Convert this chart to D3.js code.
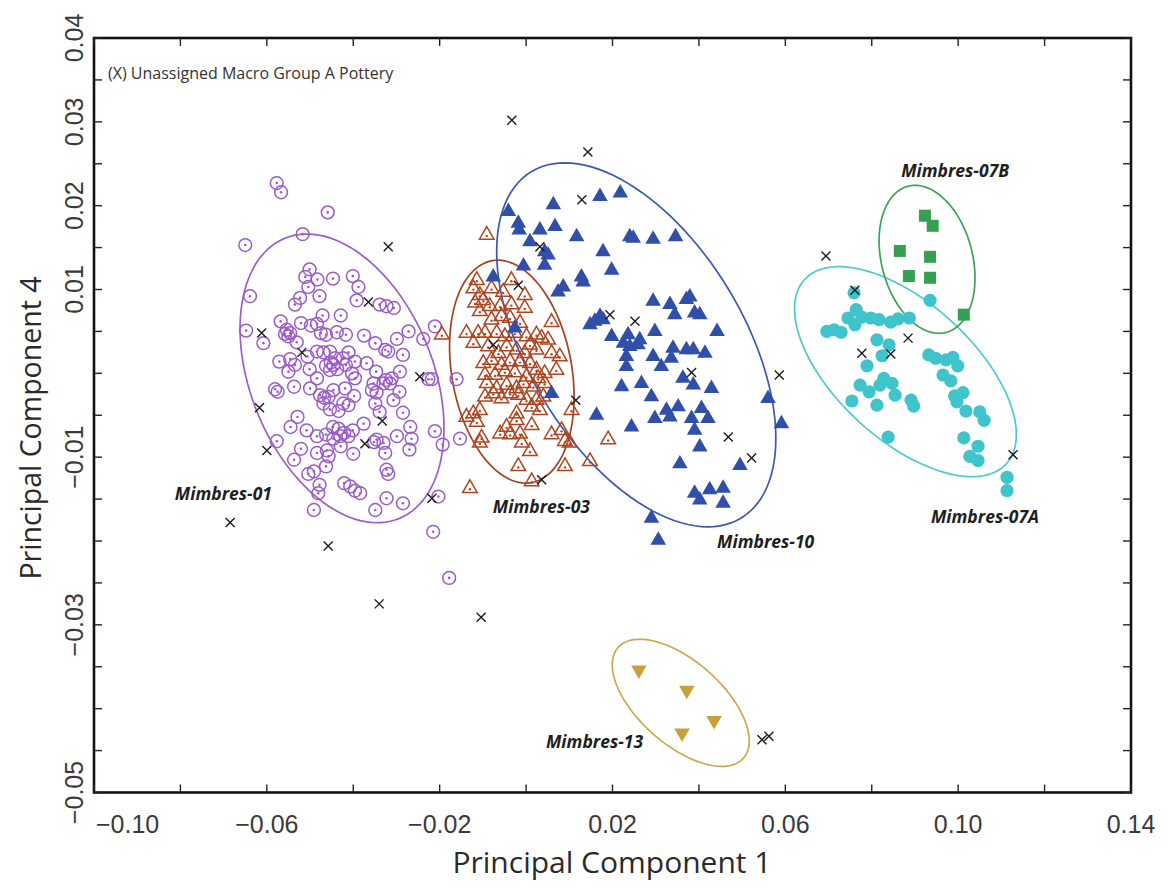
<!DOCTYPE html>
<html><head><meta charset="utf-8">
<script src="https://cdn.jsdelivr.net/npm/d3@7"></script>
<style>body{margin:0;background:#fff}</style>
</head><body>
<svg id="chart" width="1169" height="888"></svg>
<script>
// PCA scores [PC1, PC4] for each compositional group
const mimbres01 = [
[-0.0577,0.0227],[-0.0567,0.0216],[-0.0459,0.0192],[-0.0650,0.0153],[-0.0517,0.0166],[-0.0639,0.0092],
[-0.0648,0.0051],[-0.0608,0.0036],[-0.0501,0.0124],[-0.0511,0.0115],[-0.0483,0.0112],[-0.0447,0.0113],
[-0.0504,0.0103],[-0.0401,0.0116],[-0.0388,0.0103],[-0.0478,0.0092],[-0.0523,0.0090],[-0.0535,0.0082],
[-0.0392,0.0087],[-0.0339,0.0082],[-0.0323,0.0080],[-0.0306,0.0078],[-0.0568,0.0062],[-0.0471,0.0069],
[-0.0429,0.0069],[-0.0521,0.0060],[-0.0498,0.0057],[-0.0484,0.0059],[-0.0554,0.0052],[-0.0546,0.0048],
[-0.0550,0.0044],[-0.0531,0.0037],[-0.0475,0.0048],[-0.0463,0.0046],[-0.0438,0.0049],[-0.0417,0.0046],
[-0.0375,0.0045],[-0.0349,0.0036],[-0.0326,0.0028],[-0.0299,0.0041],[-0.0272,0.0050],[-0.0238,0.0041],
[-0.0211,0.0056],[-0.0571,0.0014],[-0.0546,0.0017],[-0.0506,0.0020],[-0.0484,0.0026],[-0.0469,0.0025],
[-0.0454,0.0026],[-0.0442,0.0018],[-0.0424,0.0018],[-0.0411,0.0025],[-0.0396,0.0014],[-0.0369,0.0012],
[-0.0285,0.0022],[-0.0319,0.0026],[-0.0550,0.0002],[-0.0535,0.0010],[-0.0501,0.0005],[-0.0484,-0.0006],
[-0.0463,0.0009],[-0.0452,0.0013],[-0.0437,0.0005],[-0.0417,0.0010],[-0.0403,0.0000],[-0.0396,-0.0006],
[-0.0347,0.0002],[-0.0324,-0.0008],[-0.0311,-0.0006],[-0.0292,0.0002],[-0.0226,-0.0007],[-0.0218,-0.0007],
[-0.0581,-0.0019],[-0.0575,-0.0022],[-0.0537,-0.0016],[-0.0500,-0.0018],[-0.0477,-0.0026],[-0.0467,-0.0029],
[-0.0457,-0.0028],[-0.0446,-0.0020],[-0.0419,-0.0018],[-0.0398,-0.0027],[-0.0357,-0.0020],[-0.0346,-0.0023],
[-0.0330,-0.0012],[-0.0293,-0.0022],[-0.0469,-0.0036],[-0.0454,-0.0043],[-0.0434,-0.0045],[-0.0423,-0.0036],
[-0.0411,-0.0038],[-0.0349,-0.0036],[-0.0307,-0.0032],[-0.0285,-0.0047],[-0.0339,-0.0046],[-0.0529,-0.0052],
[-0.0545,-0.0064],[-0.0508,-0.0068],[-0.0447,-0.0064],[-0.0434,-0.0066],[-0.0421,-0.0071],[-0.0401,-0.0068],
[-0.0376,-0.0060],[-0.0484,-0.0075],[-0.0463,-0.0073],[-0.0446,-0.0078],[-0.0430,-0.0075],[-0.0411,-0.0075],
[-0.0346,-0.0079],[-0.0352,-0.0082],[-0.0299,-0.0075],[-0.0268,-0.0064],[-0.0265,-0.0078],[-0.0270,-0.0091],
[-0.0330,-0.0083],[-0.0211,-0.0069],[-0.0193,-0.0085],[-0.0577,-0.0081],[-0.0537,-0.0103],[-0.0521,-0.0090],
[-0.0484,-0.0095],[-0.0461,-0.0092],[-0.0457,-0.0099],[-0.0429,-0.0087],[-0.0400,-0.0096],[-0.0326,-0.0095],
[-0.0463,-0.0111],[-0.0504,-0.0120],[-0.0491,-0.0117],[-0.0478,-0.0133],[-0.0323,-0.0115],[-0.0319,-0.0120],
[-0.0421,-0.0131],[-0.0407,-0.0135],[-0.0396,-0.0140],[-0.0384,-0.0143],[-0.0481,-0.0143],[-0.0323,-0.0149],
[-0.0285,-0.0155],[-0.0349,-0.0163],[-0.0491,-0.0163],[-0.0215,-0.0189],[-0.0153,-0.0078],[-0.0203,-0.0147],
[-0.0161,-0.0007],[-0.0178,-0.0244],[-0.0558,0.0047],[-0.0454,0.0004],[-0.0446,0.0010],[-0.0353,-0.0012],
[-0.0315,-0.0012]
];
const mimbres03 = [
[-0.0091,0.0165],[-0.0114,0.0111],[-0.0080,0.0101],[-0.0122,0.0101],[-0.0107,0.0093],[-0.0053,0.0097],
[-0.0034,0.0111],[-0.0003,0.0093],[-0.0118,0.0084],[-0.0099,0.0087],[-0.0084,0.0080],[-0.0060,0.0080],
[-0.0034,0.0082],[-0.0107,0.0074],[-0.0003,0.0078],[0.0059,0.0061],[-0.0080,0.0064],[-0.0057,0.0068],
[-0.0037,0.0066],[-0.0014,0.0060],[-0.0138,0.0048],[-0.0122,0.0036],[-0.0111,0.0048],[-0.0095,0.0048],
[-0.0068,0.0048],[-0.0049,0.0044],[-0.0026,0.0048],[0.0001,0.0044],[0.0024,0.0046],[0.0036,0.0042],
[0.0051,0.0040],[-0.0088,0.0032],[-0.0064,0.0024],[-0.0045,0.0032],[-0.0022,0.0028],[-0.0003,0.0024],
[0.0009,0.0034],[0.0024,0.0028],[0.0059,0.0024],[0.0078,0.0020],[-0.0195,0.0046],[-0.0099,0.0012],
[-0.0080,0.0016],[-0.0057,0.0010],[-0.0037,0.0014],[-0.0014,0.0014],[0.0009,0.0012],[0.0024,0.0004],
[0.0043,0.0000],[0.0070,0.0004],[-0.0095,-0.0002],[-0.0072,-0.0002],[-0.0049,0.0002],[-0.0026,0.0001],
[0.0001,-0.0004],[0.0028,-0.0006],[-0.0091,-0.0012],[-0.0068,-0.0018],[-0.0045,-0.0014],[-0.0022,-0.0018],
[-0.0006,-0.0012],[0.0017,-0.0016],[0.0043,-0.0012],[-0.0095,-0.0028],[-0.0076,-0.0024],[-0.0057,-0.0030],
[-0.0037,-0.0024],[-0.0018,-0.0026],[0.0001,-0.0032],[0.0024,-0.0032],[0.0040,-0.0028],[-0.0122,-0.0048],
[-0.0107,-0.0044],[-0.0138,-0.0052],[-0.0114,-0.0058],[-0.0022,-0.0048],[0.0013,-0.0040],[0.0032,-0.0044],
[0.0105,-0.0044],[-0.0022,-0.0056],[0.0013,-0.0062],[-0.0060,-0.0072],[-0.0037,-0.0073],[-0.0014,-0.0072],
[-0.0045,-0.0064],[0.0059,-0.0073],[0.0082,-0.0068],[0.0090,-0.0081],[0.0101,-0.0083],[-0.0103,-0.0077],
[-0.0107,-0.0083],[-0.0010,-0.0083],[0.0009,-0.0093],[0.0190,-0.0079],[0.0148,-0.0105],[-0.0018,-0.0111],
[0.0090,-0.0111],[0.0013,-0.0129],[-0.0130,-0.0137]
];
const mimbres10 = [
[-0.0041,0.0193],[0.0063,0.0201],[0.0171,0.0211],[0.0218,0.0215],[-0.0018,0.0179],[-0.0016,0.0171],
[0.0032,0.0171],[0.0067,0.0175],[0.0009,0.0157],[0.0117,0.0163],[0.0240,0.0163],[0.0248,0.0161],
[0.0294,0.0160],[0.0346,0.0163],[0.0043,0.0145],[0.0051,0.0141],[0.0178,0.0145],[0.0043,0.0129],
[-0.0006,0.0128],[0.0198,0.0123],[0.0128,0.0115],[0.0132,0.0109],[0.0086,0.0103],[0.0074,0.0097],
[-0.0076,0.0115],[0.0294,0.0086],[0.0333,0.0082],[0.0371,0.0088],[0.0379,0.0091],[0.0344,0.0070],
[0.0390,0.0072],[0.0402,0.0070],[0.0171,0.0068],[0.0159,0.0062],[0.0148,0.0058],[0.0178,0.0064],
[0.0198,0.0044],[0.0236,0.0046],[0.0225,0.0036],[0.0240,0.0032],[0.0263,0.0040],[0.0259,0.0034],
[0.0298,0.0050],[0.0442,0.0050],[-0.0026,0.0054],[0.0232,0.0020],[0.0232,0.0008],[0.0294,0.0020],
[0.0340,0.0030],[0.0336,0.0018],[0.0371,0.0028],[0.0387,0.0028],[0.0414,0.0024],[0.0313,0.0008],
[0.0363,-0.0006],[0.0387,-0.0014],[0.0221,-0.0016],[0.0267,-0.0012],[0.0290,-0.0028],[0.0429,-0.0018],
[0.0560,-0.0030],[0.0059,-0.0024],[0.0163,-0.0050],[0.0244,-0.0064],[0.0298,-0.0054],[0.0325,-0.0044],
[0.0352,-0.0040],[0.0333,-0.0052],[0.0406,-0.0042],[0.0383,-0.0054],[0.0421,-0.0054],[0.0390,-0.0068],
[0.0591,-0.0060],[0.0402,-0.0088],[0.0356,-0.0108],[0.0495,-0.0110],[0.0390,-0.0143],[0.0402,-0.0151],
[0.0425,-0.0139],[0.0456,-0.0137],[0.0456,-0.0155],[0.0290,-0.0173],[0.0306,-0.0199]
];
const mimbres07A = [
[0.0696,0.0050],[0.0713,0.0052],[0.0729,0.0049],[0.0745,0.0066],[0.0761,0.0058],[0.0777,0.0067],
[0.0798,0.0066],[0.0817,0.0064],[0.0759,0.0096],[0.0844,0.0061],[0.0861,0.0065],[0.0887,0.0066],
[0.0935,0.0087],[0.0812,0.0040],[0.0840,0.0034],[0.0824,0.0021],[0.0789,0.0009],[0.0828,-0.0006],
[0.0847,-0.0012],[0.0819,-0.0014],[0.0794,-0.0022],[0.0773,-0.0014],[0.0754,-0.0033],[0.0812,-0.0038],
[0.0854,-0.0026],[0.0891,-0.0032],[0.0897,-0.0039],[0.0932,0.0022],[0.0948,0.0018],[0.0972,0.0016],
[0.0988,0.0019],[0.0999,0.0009],[0.0965,-0.0002],[0.0983,-0.0009],[0.0992,-0.0027],[0.1011,-0.0023],
[0.0997,-0.0034],[0.1018,-0.0045],[0.1050,-0.0046],[0.1060,-0.0056],[0.1013,-0.0077],[0.1046,-0.0087],
[0.1027,-0.0099],[0.1046,-0.0104],[0.0838,-0.0076],[0.1113,-0.0124],[0.1113,-0.0140],[0.0764,0.0076]
];
const mimbres07B = [
[0.0923,0.0188],[0.0941,0.0176],[0.0865,0.0146],[0.0935,0.0139],[0.0886,0.0116],[0.0935,0.0114],[0.1013,0.0070]
];
const mimbres13 = [
[0.0261,-0.0354],[0.0372,-0.0378],[0.0435,-0.0414],[0.0361,-0.0429]
];
const unassigned = [
[-0.0319,0.0151],[-0.0365,0.0085],[-0.0612,0.0048],[-0.0519,0.0025],[-0.0246,-0.0004],[-0.0617,-0.0041],
[-0.0333,-0.0057],[-0.0373,-0.0084],[-0.0600,-0.0092],[-0.0218,-0.0149],[-0.0685,-0.0178],[-0.0458,-0.0206],
[0.0129,0.0207],[0.0032,0.0151],[-0.0018,0.0105],[0.0194,0.0070],[0.0252,0.0062],[-0.0076,0.0034],
[0.0383,0.0001],[0.0586,-0.0002],[0.0115,-0.0032],[0.0468,-0.0076],[0.0522,-0.0101],[0.0036,-0.0127],
[-0.0033,0.0302],[0.0143,0.0264],[-0.0340,-0.0275],[-0.0104,-0.0291],[0.0546,-0.0437],[0.0562,-0.0433],
[0.0694,0.0140],[0.0761,0.0099],[0.0777,0.0024],[0.0844,0.0023],[0.0884,0.0042],[0.1127,-0.0097]
];

// Group ellipses: centre and the two semi-axis vectors, all in PC units
const groupNames = ["Mimbres-01","Mimbres-03","Mimbres-10","Mimbres-07A","Mimbres-07B","Mimbres-13"];
const ellipseCenters = [[-0.0426,-0.0006],[-0.0033,0.0002],[0.0255,0.0034],[0.0878,0.0002],[0.0928,0.0136],[0.0358,-0.0393]];
const ellipseMajor = [[-0.0133,0.0167],[-0.00453,0.01324],[-0.02428,0.02066],[-0.02335,0.01099],[-0.00440,0.00872],[-0.01451,0.00660]];
const ellipseMinor = [[0.0195,0.0042],[0.01368,0.00124],[0.02131,0.00666],[0.01067,0.00601],[0.01019,0.00137],[0.00639,0.00373]];
// Where each group name is written (left end of baseline)
const labelAnchors = [[-0.0813,-0.0151],[-0.0077,-0.0167],[0.0442,-0.0208],[0.0937,-0.0179],[0.0868,0.0234],[0.0046,-0.0447]];

const xTicks = [-0.10,-0.08,-0.06,-0.04,-0.02,0.00,0.02,0.04,0.06,0.08,0.10,0.12,0.14];
const xTickLabels = [-0.10,-0.06,-0.02,0.02,0.06,0.10,0.14];
const yTicks = d3.range(-0.05, 0.0401, 0.005);
const yTickLabels = [0.04,0.03,0.02,0.01,-0.01,-0.03,-0.05];

const colors = {
  "Mimbres-01":"#9a5cc6", "Mimbres-03":"#b0441f", "Mimbres-10":"#2f4fa8",
  "Mimbres-07A":"#3fc4cc", "Mimbres-07B":"#35a050", "Mimbres-13":"#c6a13a"
};
const ellipseColors = {
  "Mimbres-01":"#9c5ec8", "Mimbres-03":"#a8401c", "Mimbres-10":"#3a58b0",
  "Mimbres-07A":"#4ccad0", "Mimbres-07B":"#3aa655", "Mimbres-13":"#cba94e"
};

const L = 94, R = 1131, T = 38, B = 792.5;
const svg = d3.select("#chart");
const x = d3.scaleLinear().domain([-0.10, 0.14]).range([L, R]);
const y = d3.scaleLinear().domain([-0.05, 0.04]).range([B, T]);
const fmt = d3.format(".2f");
const tickFont = "'Liberation Sans', Arial, sans-serif";
const titleFont = "'Open Sans', 'Noto Sans', sans-serif";

// Ellipses
const ell = svg.append("g");
groupNames.forEach((g, i) => {
  const c = ellipseCenters[i], a = ellipseMajor[i], b = ellipseMinor[i];
  const pts = d3.range(0, 361, 3).map(deg => {
    const t = deg * Math.PI / 180;
    return [x(c[0] + a[0]*Math.cos(t) + b[0]*Math.sin(t)), y(c[1] + a[1]*Math.cos(t) + b[1]*Math.sin(t))];
  });
  ell.append("path").attr("d", d3.line()(pts) + "Z")
    .attr("fill", "none").attr("stroke", ellipseColors[g]).attr("stroke-width", 1.7);
});

// Markers
const tri = d3.symbol().type(d3.symbolTriangle).size(92)();
const triFilled = d3.symbol().type(d3.symbolTriangle).size(105)();
const pts = svg.append("g");

pts.selectAll(".m01").data(mimbres01).join("g")
  .attr("transform", d => `translate(${x(d[0])},${y(d[1])})`)
  .call(s => {
    s.append("circle").attr("r", 6.4).attr("fill", "none").attr("stroke", colors["Mimbres-01"]).attr("stroke-width", 1.5);
    s.append("circle").attr("r", 1.3).attr("fill", colors["Mimbres-01"]);
  });

pts.selectAll(".m03").data(mimbres03).join("g")
  .attr("transform", d => `translate(${x(d[0])},${y(d[1])})`)
  .call(s => {
    s.append("path").attr("d", tri).attr("fill", "none").attr("stroke", colors["Mimbres-03"]).attr("stroke-width", 1.5);
    s.append("circle").attr("r", 1.2).attr("cy", 1).attr("fill", colors["Mimbres-03"]);
  });

pts.selectAll(".m10").data(mimbres10).join("path")
  .attr("transform", d => `translate(${x(d[0])},${y(d[1])})`)
  .attr("d", triFilled).attr("fill", colors["Mimbres-10"]);

pts.selectAll(".m07a").data(mimbres07A).join("circle")
  .attr("cx", d => x(d[0])).attr("cy", d => y(d[1])).attr("r", 6.6)
  .attr("fill", colors["Mimbres-07A"]);

pts.selectAll(".m07b").data(mimbres07B).join("rect")
  .attr("x", d => x(d[0]) - 6).attr("y", d => y(d[1]) - 6)
  .attr("width", 12).attr("height", 12).attr("fill", colors["Mimbres-07B"]);

pts.selectAll(".m13").data(mimbres13).join("path")
  .attr("transform", d => `translate(${x(d[0])},${y(d[1])}) rotate(180)`)
  .attr("d", d3.symbol().type(d3.symbolTriangle).size(105)()).attr("fill", colors["Mimbres-13"]);

pts.selectAll(".ux").data(unassigned).join("path")
  .attr("transform", d => `translate(${x(d[0])},${y(d[1])})`)
  .attr("d", "M-4.5,-4.5L4.5,4.5M-4.5,4.5L4.5,-4.5")
  .attr("stroke", "#1a1a1a").attr("stroke-width", 1.4).attr("fill", "none");

// Group names
svg.append("g").selectAll("text").data(groupNames).join("text")
  .attr("x", (d, i) => x(labelAnchors[i][0])).attr("y", (d, i) => y(labelAnchors[i][1]))
  .attr("font-family", titleFont).attr("font-weight", 700).attr("font-style", "italic")
  .attr("font-size", 17.5).attr("fill", "#1e1e1e").text(d => d);

// Frame and inward ticks
const frame = svg.append("g");
frame.append("rect").attr("x", L).attr("y", T).attr("width", R - L).attr("height", B - T)
  .attr("fill", "none").attr("stroke", "#111").attr("stroke-width", 2.6);
const tl = 8;
frame.selectAll(".xb").data(xTicks).join("line")
  .attr("x1", d => x(d)).attr("x2", d => x(d)).attr("y1", B).attr("y2", B - tl)
  .attr("stroke", "#222").attr("stroke-width", 1.4);
frame.selectAll(".xt").data(xTicks).join("line")
  .attr("x1", d => x(d)).attr("x2", d => x(d)).attr("y1", T).attr("y2", T + tl)
  .attr("stroke", "#222").attr("stroke-width", 1.4);
frame.selectAll(".yl").data(yTicks).join("line")
  .attr("y1", d => y(d)).attr("y2", d => y(d)).attr("x1", L).attr("x2", L + tl)
  .attr("stroke", "#222").attr("stroke-width", 1.4);
frame.selectAll(".yr").data(yTicks).join("line")
  .attr("y1", d => y(d)).attr("y2", d => y(d)).attr("x1", R).attr("x2", R - tl)
  .attr("stroke", "#222").attr("stroke-width", 1.4);

// Tick labels
svg.append("g").selectAll("text").data(xTickLabels).join("text")
  .attr("x", (d, i) => i === 0 ? L + 2 : x(d))
  .attr("y", 833)
  .attr("text-anchor", (d, i) => i === 0 ? "start" : "middle")
  .attr("font-family", tickFont).attr("font-size", 25).attr("fill", "#3a3a3a")
  .text(d => fmt(d));
svg.append("g").selectAll("text").data(yTickLabels).join("text")
  .attr("transform", d => `translate(83,${y(d)}) rotate(-90)`)
  .attr("text-anchor", "middle")
  .attr("font-family", tickFont).attr("font-size", 25).attr("fill", "#3a3a3a")
  .text(d => fmt(d));

// Axis titles
svg.append("text").attr("x", 612).attr("y", 873).attr("text-anchor", "middle")
  .attr("font-family", titleFont).attr("font-size", 30).attr("fill", "#2a2a2a")
  .text("Principal Component 1");
svg.append("text").attr("transform", "translate(41,428) rotate(-90)").attr("text-anchor", "middle")
  .attr("font-family", titleFont).attr("font-size", 28.5).attr("fill", "#2a2a2a")
  .text("Principal Component 4");

// Note
svg.append("text").attr("x", 108).attr("y", 79)
  .attr("font-family", titleFont).attr("font-size", 16).attr("fill", "#333")
  .text("(X) Unassigned Macro Group A Pottery");
</script>
</body></html>
